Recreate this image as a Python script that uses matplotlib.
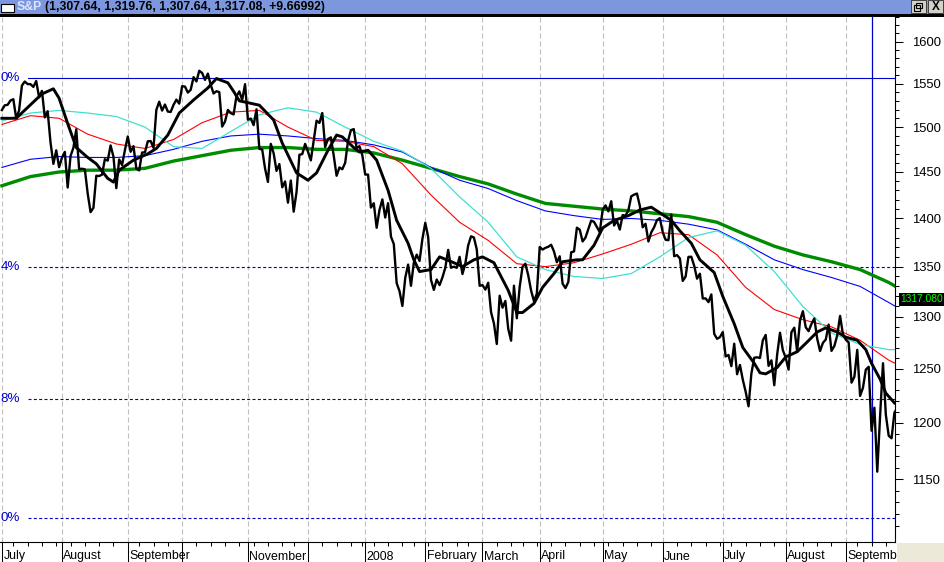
import numpy as np
import pandas as pd
import matplotlib
matplotlib.use("Agg")
import matplotlib.pyplot as plt
from matplotlib.patches import Rectangle
from matplotlib.ticker import FixedLocator, FuncFormatter, NullFormatter
from matplotlib.transforms import blended_transform_factory

plt.rcParams['font.family'] = ['Liberation Sans', 'DejaVu Sans']

# S&P daily closes, one list per month
jul07 = [1519.4, 1524.9, 1525.4, 1530.4, 1531.9, 1510.1, 1518.8, 1547.7, 1552.5, 1549.5, 1549.4,
         1546.2, 1553.1, 1534.1, 1541.6, 1511.0, 1518.1, 1482.7, 1458.9, 1473.9, 1455.3]
aug07 = [1465.8, 1472.2, 1433.1, 1467.7, 1476.7, 1497.5, 1453.1, 1453.6, 1452.9, 1426.5, 1406.7, 1411.3,
         1445.9, 1445.6, 1447.1, 1464.1, 1462.5, 1479.4, 1466.8, 1432.4, 1463.8, 1457.6, 1474.0]
sep07 = [1489.4, 1472.3, 1478.6, 1453.6, 1451.7, 1471.5, 1471.6, 1484.0, 1484.3, 1476.7, 1519.8, 1529.0,
         1518.8, 1525.8, 1517.7, 1517.2, 1525.4, 1531.4, 1526.8]
oct07 = [1547.0, 1546.6, 1539.6, 1542.8, 1557.6, 1552.6, 1565.2, 1562.5, 1554.4, 1561.8, 1548.7, 1538.5,
         1541.2, 1540.1, 1500.6, 1506.3, 1519.6, 1515.9, 1514.4, 1535.3, 1541.0, 1531.0, 1549.4]
nov07 = [1508.4, 1509.7, 1502.2, 1520.3, 1475.6, 1474.8, 1453.7, 1439.2, 1481.1, 1470.6, 1451.2, 1458.7,
         1433.3, 1439.7, 1416.8, 1440.7, 1407.2, 1428.2, 1469.0, 1469.7, 1481.1]
dec07 = [1472.4, 1462.8, 1485.0, 1507.3, 1504.7, 1516.0, 1477.7, 1486.6, 1488.4, 1468.0, 1445.9, 1455.0,
         1453.0, 1460.1, 1484.5, 1496.5, 1497.7, 1476.3, 1478.5, 1468.4]
jan08 = [1447.2, 1447.2, 1411.6, 1416.2, 1390.2, 1409.1, 1420.3, 1401.0, 1416.3, 1381.0, 1373.2, 1333.3,
         1325.2, 1310.5, 1338.6, 1352.1, 1330.6, 1354.0, 1362.3, 1355.8, 1378.6]
feb08 = [1395.4, 1380.8, 1336.6, 1326.5, 1336.9, 1331.3, 1339.1, 1348.9, 1367.2, 1348.9, 1350.0, 1348.8,
         1360.0, 1342.5, 1353.1, 1371.8, 1381.3, 1380.0, 1367.7, 1330.6]
mar08 = [1331.3, 1326.8, 1333.7, 1304.3, 1293.4, 1273.4, 1320.7, 1308.8, 1315.5, 1288.1, 1276.6, 1330.7,
         1298.4, 1329.5, 1349.9, 1353.0, 1341.1, 1325.8, 1315.2, 1322.7]
apr08 = [1370.2, 1367.5, 1369.3, 1370.4, 1372.5, 1365.5, 1354.5, 1360.6, 1332.8, 1328.3, 1334.4, 1364.7,
         1365.6, 1390.3, 1388.2, 1375.9, 1379.9, 1388.8, 1397.8, 1396.4, 1390.9, 1385.6]
may08 = [1409.3, 1413.9, 1407.5, 1418.3, 1392.6, 1397.7, 1388.3, 1403.6, 1403.0, 1408.7, 1423.6, 1425.4,
         1426.6, 1413.4, 1390.7, 1394.4, 1375.9, 1385.4, 1390.8, 1398.3, 1400.4]
jun08 = [1385.7, 1377.7, 1377.2, 1404.1, 1360.7, 1361.8, 1358.4, 1335.5, 1339.9, 1360.0, 1360.1, 1350.9,
         1337.8, 1342.8, 1317.9, 1318.0, 1314.3, 1322.0, 1283.2, 1278.4, 1280.0]
jul08 = [1284.9, 1261.5, 1262.9, 1252.3, 1273.7, 1244.7, 1253.4, 1239.5, 1228.3, 1214.9, 1245.4, 1260.3,
         1260.7, 1260.0, 1277.0, 1282.2, 1252.5, 1257.8, 1234.4, 1263.2, 1284.3, 1267.4]
aug08 = [1260.3, 1249.0, 1284.9, 1289.2, 1266.1, 1296.3, 1305.3, 1289.6, 1285.8, 1292.9, 1298.2, 1278.6,
         1266.7, 1274.5, 1277.7, 1292.2, 1266.8, 1271.5, 1281.7, 1300.7, 1282.8]
sep08 = [1277.6, 1275.0, 1236.8, 1242.3, 1267.8, 1224.5, 1232.0, 1249.0, 1251.7, 1192.7, 1213.6, 1156.4,
         1206.5, 1255.1, 1207.1, 1188.2, 1185.9, 1209.2, 1213.3]

months = [jul07, aug07, sep07, oct07, nov07, dec07, jan08, feb08, mar08, apr08, may08, jun08, jul08, aug08, sep08]
month_labels = ["July", "August", "September", "", "November", "", "2008", "February", "March",
                "April", "May", "June", "July", "August", "September"]
holidays = ["2007-07-04", "2007-09-03", "2007-11-22", "2007-12-25", "2008-01-01", "2008-01-21",
            "2008-02-18", "2008-03-21", "2008-05-26", "2008-07-04", "2008-09-01"]

# short moving average (thick black), read at these sessions
fast_days = [0, 5, 14, 18, 20, 23, 26, 30, 33, 37, 39, 41, 46, 51, 54, 58, 62, 67, 72, 75, 79, 81, 83, 90,
             95, 98, 103, 107, 110, 114, 117, 119, 123, 125, 128, 131, 135, 138, 142, 144, 146, 150, 153,
             158, 161, 165, 168, 172, 177, 180, 182, 186, 189, 193, 196, 201, 203, 207, 210, 214, 219, 223,
             227, 230, 234, 237, 241, 244, 249, 252, 256, 259, 263, 265, 267, 271, 274, 278, 281, 285, 288,
             292, 295, 299, 302, 304, 307, 309, 312]
ma_fast = [1510, 1510, 1538, 1544, 1533, 1504, 1477, 1466, 1459, 1443, 1439, 1452, 1463, 1470, 1476, 1491,
           1516, 1531, 1545, 1556, 1551, 1541, 1530, 1525, 1508, 1482, 1449, 1441, 1449, 1474, 1491, 1489,
           1477, 1472, 1474, 1463, 1430, 1398, 1374, 1357, 1345, 1347, 1360, 1354, 1350, 1357, 1360, 1354,
           1326, 1304, 1304, 1313, 1329, 1343, 1355, 1357, 1357, 1372, 1390, 1398, 1403, 1409, 1412, 1406,
           1398, 1387, 1374, 1357, 1344, 1320, 1293, 1270, 1255, 1246, 1245, 1251, 1261, 1266, 1274, 1285,
           1289, 1285, 1280, 1277, 1268, 1255, 1240, 1227, 1218]

# slow averages, read every 10 sessions
slow_days = [0, 10, 20, 30, 40, 50, 60, 70, 80, 90, 100, 110, 120, 130, 140, 150, 160, 170, 180, 190,
             200, 210, 220, 230, 240, 250, 260, 270, 280, 290, 300, 310, 313]
ma_red = [1503, 1513, 1510, 1492, 1481, 1476, 1486, 1505, 1517, 1519, 1500, 1485, 1484, 1478, 1459, 1425,
          1396, 1377, 1353, 1350, 1354, 1363, 1373, 1385, 1383, 1362, 1329, 1307, 1297, 1290, 1277, 1258, 1254]
ma_cyan = [1507, 1516, 1519, 1516, 1512, 1500, 1478, 1476, 1495, 1514, 1522, 1517, 1500, 1484, 1473, 1454,
           1423, 1396, 1360, 1347, 1340, 1338, 1343, 1360, 1380, 1387, 1372, 1345, 1310, 1284, 1273, 1268, 1268]
ma_blue = [1455, 1464, 1467, 1466, 1466, 1468, 1475, 1484, 1490, 1492, 1490, 1487, 1485, 1480, 1472, 1455,
           1441, 1432, 1419, 1408, 1403, 1399, 1400, 1398, 1394, 1388, 1373, 1357, 1347, 1339, 1330, 1314, 1309]
ma_green = [1435, 1445, 1450, 1452, 1452, 1454, 1462, 1468, 1474, 1477, 1477, 1475, 1475, 1471, 1463, 1454,
            1445, 1437, 1426, 1416, 1413, 1410, 1408, 1405, 1402, 1396, 1383, 1371, 1362, 1355, 1347, 1334, 1329]

fib_levels = [1556.7, 1350.0, 1222.0, 1117.0]
fib_labels = ["0%", "4%", "8%", "0%"]
marker_day = 304
last_price = "1317.080"
y_ticks = [1150, 1200, 1250, 1300, 1350, 1400, 1450, 1500, 1550, 1600]
title = "(1,307.64, 1,319.76, 1,307.64, 1,317.08, +9.66992)"

W, H = 945, 562
FIB_COLOR = '#0000CC'


def fx(px):
    return px / W


def fy(py):
    return 1 - py / H


def main():
    closes = np.concatenate(months)
    days = np.arange(len(closes))
    month_starts = np.cumsum([0] + [len(m) for m in months[:-1]])

    dates = pd.bdate_range("2007-07-02", "2008-09-26")
    dates = dates[~dates.isin(pd.to_datetime(holidays))]
    if len(dates) == len(closes):
        wd = dates.weekday
        week_starts = [i for i in range(len(dates)) if i == 0 or wd[i] <= wd[i - 1]]
    else:
        week_starts = list(range(0, len(closes), 5))
    week_starts = [d for d in week_starts if d not in set(month_starts)]

    fig = plt.figure(figsize=(W / 100, H / 100), dpi=100)
    fig.patch.set_facecolor('white')
    ax = fig.add_axes([0, fy(542), fx(895), fy(17) - fy(542)])
    ax.set_facecolor('white')

    # month gridlines
    for s in month_starts:
        ax.axvline(s, color='#BEBEBE', lw=0.8, ls=(0, (4.5, 2.7)), zorder=0.5)

    # retracement lines
    trans_y = blended_transform_factory(ax.transAxes, ax.transData)
    for i, (level, lab) in enumerate(zip(fib_levels, fib_labels)):
        ls = '-' if i == 0 else (0, (2.7, 2.1))
        ax.axhline(level, xmin=28 / 895, color=FIB_COLOR, lw=0.8, ls=ls, zorder=1)
        ax.text(0.0005, level, lab, transform=trans_y, color=FIB_COLOR, fontsize=9.6,
                ha='left', va='center', zorder=1)
    ax.axvline(marker_day, color=FIB_COLOR, lw=0.9, zorder=1)

    # averages and price
    ax.plot(slow_days, ma_green, color='#008C00', lw=2.4, zorder=2)
    ax.plot(slow_days, ma_blue, color='#0000FF', lw=0.8, zorder=2)
    ax.plot(slow_days, ma_red, color='#FF0000', lw=0.8, zorder=2)
    ax.plot(slow_days, ma_cyan, color='#40E0D0', lw=0.9, zorder=2)
    ax.plot(fast_days, ma_fast, color='black', lw=2.1, zorder=3)
    ax.plot(days, closes, color='black', lw=1.7, zorder=4)

    ax.set_yscale('log')
    ax.set_xlim(-0.66, 312.2)
    ax.set_ylim(1096.6, 1630)

    ax.yaxis.tick_right()
    ax.yaxis.set_major_locator(FixedLocator(y_ticks))
    ax.yaxis.set_major_formatter(FuncFormatter(lambda v, p: f"{v:.0f}"))
    ax.yaxis.set_minor_locator(FixedLocator([v for v in range(1100, 1631, 10) if v % 50]))
    ax.yaxis.set_minor_formatter(NullFormatter())
    ax.tick_params(axis='y', which='major', direction='out', length=5.8, width=0.75,
                   labelsize=9.4, pad=6.5)
    ax.tick_params(axis='y', which='minor', direction='out', length=2.9, width=0.75)

    ax.set_xticks(month_starts)
    ax.set_xticks(week_starts, minor=True)
    ax.set_xticklabels([])
    ax.tick_params(axis='x', which='major', direction='out', length=14.4, width=0.75)
    ax.tick_params(axis='x', which='minor', direction='out', length=2.9, width=0.75)

    for side in ['left', 'top']:
        ax.spines[side].set_visible(False)
    for side in ['right', 'bottom']:
        ax.spines[side].set_color('black')
        ax.spines[side].set_linewidth(0.8)

    trans_x = blended_transform_factory(ax.transData, fig.transFigure)
    for s, lab in zip(month_starts, month_labels):
        ax.text(s + 0.5, fy(559.5), lab, transform=trans_x, ha='left', va='baseline',
                fontsize=8.9, clip_on=False)

    # last value tag
    ax.text(900.5 / 895, float(last_price), last_price, transform=trans_y, color='#00FF00',
            fontsize=7.4, ha='left', va='center', clip_on=False,
            bbox=dict(facecolor='black', edgecolor='none', pad=1.0))

    # window chrome
    fig.add_artist(Rectangle((fx(897), 0), 1, 19 / H, transform=fig.transFigure,
                             facecolor='#ECE9D8', edgecolor='none', zorder=10))
    fig.add_artist(Rectangle((0, fy(14)), 1, 14 / H, transform=fig.transFigure,
                             facecolor='#7C97DD', edgecolor='none', zorder=10))
    fig.add_artist(Rectangle((0, fy(16.5)), 1, 2.5 / H, transform=fig.transFigure,
                             facecolor='black', edgecolor='none', zorder=10))
    fig.add_artist(Rectangle((fx(1.5), fy(12)), 13 / W, 8 / H, transform=fig.transFigure,
                             facecolor='white', edgecolor='black', lw=0.8, zorder=11))
    fig.text(fx(17), fy(7.3), "S&P", color='#DDE6FF', fontsize=8.8, fontweight='bold',
             ha='left', va='center', zorder=11)
    fig.text(fx(45), fy(7.3), title, color='black', fontsize=8.8, fontweight='bold',
             ha='left', va='center', zorder=11)
    for bx in [911, 928]:
        fig.add_artist(Rectangle((fx(bx), fy(12.5)), 15 / W, 12 / H, transform=fig.transFigure,
                                 facecolor='#D4D0C8', edgecolor='#404040', lw=0.7, zorder=11))
    fig.add_artist(Rectangle((fx(914.5), fy(10.5)), 6 / W, 5 / H, transform=fig.transFigure,
                             facecolor='none', edgecolor='black', lw=0.8, zorder=12))
    fig.add_artist(Rectangle((fx(916.5), fy(8)), 6 / W, 5 / H, transform=fig.transFigure,
                             facecolor='none', edgecolor='black', lw=0.8, zorder=12))
    fig.text(fx(935.5), fy(6.5), "X", color='black', fontsize=8.5, fontweight='bold',
             ha='center', va='center', zorder=12)

    fig.savefig("out.png", dpi=100)


if __name__ == "__main__":
    main()
